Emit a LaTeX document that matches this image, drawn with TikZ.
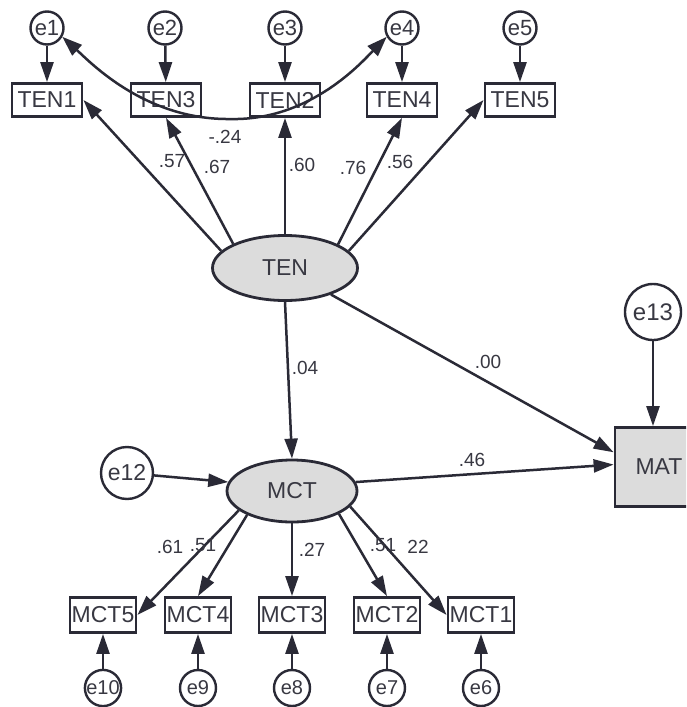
\documentclass[tikz,border=0pt]{standalone}
\usepackage{fontspec}
\setmainfont{Liberation Sans}
\usetikzlibrary{arrows.meta,shapes.geometric,calc}
\definecolor{ln}{HTML}{2A2A36}
\definecolor{tx}{HTML}{383842}
\definecolor{lat}{HTML}{DCDCDC}
\begin{document}
\begin{tikzpicture}[x=1pt,y=-1pt,
 obsbox/.style={draw=ln,line width=2.8pt,fill=white,minimum width=70pt,minimum height=33pt,inner sep=0pt,text=tx,font=\fontsize{23}{23}\selectfont},
 errc/.style={circle,draw=ln,line width=2.4pt,fill=white,inner sep=0pt,text=tx},
 latent/.style={ellipse,draw=ln,line width=2.8pt,fill=lat,inner sep=0pt,text=tx,font=\fontsize{23}{23}\selectfont},
 arr/.style={draw=ln,line width=2.5pt,-{Triangle[length=20pt,width=13pt]}},
 coef/.style={text=tx,font=\fontsize{19}{19}\selectfont,inner sep=0pt}
]
\useasboundingbox (0,0) rectangle (686,707);
\clip (0,0) rectangle (686,707);
\fill[white] (0,0) rectangle (686,707);

% top error terms
\node[errc,minimum size=33pt,font=\fontsize{22}{22}\selectfont] (e1) at (47,28) {e1};
\node[errc,minimum size=33pt,font=\fontsize{22}{22}\selectfont] (e2) at (165,28) {e2};
\node[errc,minimum size=33pt,font=\fontsize{22}{22}\selectfont] (e3) at (285,28) {e3};
\node[errc,minimum size=33pt,font=\fontsize{22}{22}\selectfont] (e4) at (402,28) {e4};
\node[errc,minimum size=33pt,font=\fontsize{22}{22}\selectfont] (e5) at (520,28) {e5};

% TEN indicators
\node[obsbox] (ten1) at (47,100) {TEN1};
\node[obsbox] (ten3) at (166,100) {TEN3};
\node[obsbox] (ten2) at (285,100) {TEN2};
\node[obsbox] (ten4) at (402,100) {TEN4};
\node[obsbox] (ten5) at (520,100) {TEN5};

% latents
\node[latent,minimum width=145pt,minimum height=65pt] (ten) at (285,268) {TEN};
\node[latent,minimum width=130pt,minimum height=62pt] (mct) at (292,491) {MCT};

% outcome
\node[draw=ln,line width=2.8pt,fill=lat,minimum width=88pt,minimum height=79pt,inner sep=0pt,text=tx,font=\fontsize{23}{23}\selectfont] (mat) at (659,467) {MAT};
\node[errc,minimum size=56pt,font=\fontsize{24}{24}\selectfont] (e13) at (653,312) {e13};
\node[errc,minimum size=52pt,font=\fontsize{23}{23}\selectfont] (e12) at (127,473) {e12};

% MCT indicators
\node[obsbox,minimum width=66pt,minimum height=35pt] (mct5) at (103,615) {MCT5};
\node[obsbox,minimum width=66pt,minimum height=35pt] (mct4) at (198,615) {MCT4};
\node[obsbox,minimum width=66pt,minimum height=35pt] (mct3) at (292,615) {MCT3};
\node[obsbox,minimum width=66pt,minimum height=35pt] (mct2) at (387,615) {MCT2};
\node[obsbox,minimum width=66pt,minimum height=35pt] (mct1) at (481,615) {MCT1};

% bottom error terms
\node[errc,minimum size=36pt,font=\fontsize{20}{20}\selectfont] (e10) at (103,688) {e10};
\node[errc,minimum size=36pt,font=\fontsize{20}{20}\selectfont] (e9) at (198,688) {e9};
\node[errc,minimum size=36pt,font=\fontsize{20}{20}\selectfont] (e8) at (292,688) {e8};
\node[errc,minimum size=36pt,font=\fontsize{20}{20}\selectfont] (e7) at (387,688) {e7};
\node[errc,minimum size=36pt,font=\fontsize{20}{20}\selectfont] (e6) at (481,688) {e6};

% error arrows
\draw[arr] (e1) -- (ten1);
\draw[arr] (e2) -- (ten3);
\draw[arr] (e3) -- (ten2);
\draw[arr] (e4) -- (ten4);
\draw[arr] (e5) -- (ten5);
\draw[arr] (e10) -- (mct5);
\draw[arr] (e9) -- (mct4);
\draw[arr] (e8) -- (mct3);
\draw[arr] (e7) -- (mct2);
\draw[arr] (e6) -- (mct1);
\draw[arr] (e12) -- (mct.172);
\draw[arr] (e13) -- (e13 |- mat.north);

% loadings TEN
\draw[arr] (ten.165) -- (ten1.east);
\draw[arr] (ten.155) -- (ten3.south);
\draw[arr] (ten.north) -- (ten2.south);
\draw[arr] (ten.24) -- (ten4.south);
\draw[arr] (ten.15) -- (ten5.west);

% structural paths
\draw[arr] (ten.330) -- ($(mat.north west)!0.32!(mat.south west)$);
\draw[arr] (ten.south) -- (mct.north);
\draw[arr] (mct.8) -- ($(mat.north west)!0.47!(mat.south west)$);

% loadings MCT
\draw[arr] (mct.200) -- (mct5.east);
\draw[arr] (mct.208) -- (mct4.north);
\draw[arr] (mct.south) -- (mct3.north);
\draw[arr] (mct.334) -- (mct2.north);
\draw[arr] (mct.345) -- (mct1.west);

% covariance e1 <-> e4
\draw[draw=ln,line width=2.5pt,{Triangle[length=20pt,width=14pt]}-{Triangle[length=20pt,width=14pt]}]
  (e1.330) .. controls (90,62) and (145,120) .. (230,119)
  .. controls (310,121) and (362,62) .. (e4.210);

% coefficients
\node[coef] (c1) at (225,137) {-.24};
\node[coef] (c2) at (172,161) {.57};
\node[coef] (c3) at (217,167) {.67};
\node[coef] (c4) at (302,165) {.60};
\node[coef] (c5) at (353,168) {.76};
\node[coef] (c6) at (400,162) {.56};
\node[coef] (c7) at (305,368) {.04};
\node[coef] (c8) at (488,362) {.00};
\node[coef] (c9) at (472,460) {.46};
\node[coef] (c10) at (170,547) {.61};
\node[coef] (c11) at (203,545) {.51};
\node[coef] (c12) at (312,550) {.27};
\node[coef] (c13) at (383,545) {.51};
\node[coef] (c14) at (418,547) {22};
\end{tikzpicture}
\end{document}
